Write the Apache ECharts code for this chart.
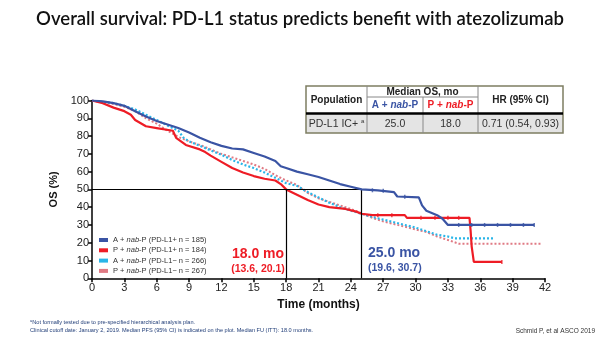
<!DOCTYPE html>
<html><head><meta charset="utf-8">
<script src="https://cdn.jsdelivr.net/npm/echarts@6/dist/echarts.min.js"></script>
<style>html,body{margin:0;padding:0;background:#fff}#c{width:600px;height:338px}</style>
</head><body><div id="c"></div>
<script>
const xTicks = [0,3,6,9,12,15,18,21,24,27,30,33,36,39,42];
const yTicks = [0,10,20,30,40,50,60,70,80,90,100];
const seriesNames = ['A + nab-P (PD-L1+ n = 185)','P + nab-P (PD-L1+ n = 184)','A + nab-P (PD-L1− n = 266)','P + nab-P (PD-L1− n = 267)'];
const blueKM = [[0,100],[1,99.5],[2,98.5],[3,97],[4,94],[5,91],[6,88.5],[7,86.5],[8,84.5],[9,82],[10,79],[11,76.5],[12,74.5],[13,73],[14,72.5],[15,70.5],[16,68.5],[17,66],[17.5,63],[18,62],[19,60],[20,58.5],[21,57],[22,55],[23,53],[24,51.5],[25,50],[26.5,49.5],[28,48.5],[28.3,46],[30.3,45.5],[30.6,41],[31,38],[32,35.5],[32.5,33.5],[33,30],[41,30]];
const redKM = [[0,100],[1,98.5],[2,96],[3,94],[3.6,92],[4,89],[5,85.5],[6,84.5],[7.5,83],[7.8,79],[8.7,75],[10,72.5],[10.5,71],[11,69],[12,65.5],[13,62],[14,59.5],[15,57.5],[16,56],[17,55],[17.5,53],[18,50],[19,47],[20,44],[21,41.5],[22,40],[23.5,39],[24.5,37.5],[25,36.3],[26,35.5],[29,35.5],[29.2,34],[35,34],[35.1,27],[35.2,18],[35.4,9.2],[38,9.2]];
const cyanKM = [[0,100],[2,98.5],[3,97],[4,95],[5,92],[6,89],[7,86],[8,83],[8.5,79],[9,77],[10,74.5],[11,72],[12,69.5],[13,66.5],[14,64],[15,62],[16,59.5],[17,56.5],[18,53.5],[19,52],[20,48.5],[21,45.5],[22,42.5],[23,40],[24,38],[25,36.3],[26,34.5],[27,33],[28,31.5],[29,30],[30,28.5],[31,26.5],[32,24.5],[33,23.5],[33.6,22.5],[37.3,22.5]];
const pinkKM = [[0,100],[2,98],[3,96.5],[4,94],[5,90],[6,87],[7,83],[8,79.5],[9,77],[10,75],[11,72.5],[12,70],[13,68],[14,66],[15,64],[16,61.5],[17,58],[18,55],[19,52.5],[20,48],[21,45],[22,43],[23,41],[24,39],[25,36.5],[26,34],[27,32],[28,30.5],[29,29],[30,27.5],[31,26],[32,23.5],[33,21.5],[34,19.5],[41.7,19.5]];
const blueCensor = [[26,49.5],[27,49.2],[29,45.8],[34,30],[35.2,30],[36.4,30],[37.6,30],[38.8,30],[40,30],[41,30]];
const redCensor = [[26.5,35.5],[27.8,35.5],[30.5,34],[31.8,34],[33,34],[34,34],[38,9.2]];
const medians = {red:18.0, blue:25.0, level:50};
const colors = ['#3a54a4','#ee1c25','#29b5e8','#e07a84'];

const chart = echarts.init(document.getElementById('c'));
function fmt(n){return n.replace('nab','{i|nab}');}
const lblStyle = {fontFamily:'Liberation Sans',fontSize:11,color:'#222'};
const richLeg = {i:{fontStyle:'italic',fontFamily:'Liberation Sans',fontSize:7.5,color:'#333'}};
function ctext(x,y,t,font,fill){return {type:'text',style:{x:x,y:y,text:t,textAlign:'center',textVerticalAlign:'middle',font:font||'bold 10px "Liberation Sans"',fill:fill||'#222'}};}
const tbl = {x0:306,x1:367,x2:423,x3:478,x4:563,y0:86,y1:97,y2:113.5,y3:133};
const cellFont = '10.5px "Liberation Sans"';
const graphics = [
 {type:'text',left:'center',top:10,style:{text:'Overall survival: PD-L1 status predicts benefit with atezolizumab',font:'600 18.5px Lato',fill:'#111'}},
 // table
 {type:'rect',shape:{x:tbl.x0,y:tbl.y2,width:tbl.x4-tbl.x0,height:tbl.y3-tbl.y2},style:{fill:'#e4e4e4'}},
 {type:'rect',shape:{x:tbl.x0,y:tbl.y0,width:tbl.x4-tbl.x0,height:tbl.y3-tbl.y0},style:{fill:'none',stroke:'#7d7d62',lineWidth:1.5}},
 {type:'line',shape:{x1:tbl.x1,y1:tbl.y0,x2:tbl.x1,y2:tbl.y3},style:{stroke:'#888',lineWidth:1}},
 {type:'line',shape:{x1:tbl.x3,y1:tbl.y0,x2:tbl.x3,y2:tbl.y3},style:{stroke:'#888',lineWidth:1}},
 {type:'line',shape:{x1:tbl.x2,y1:tbl.y1,x2:tbl.x2,y2:tbl.y3},style:{stroke:'#888',lineWidth:1}},
 {type:'line',shape:{x1:tbl.x1,y1:tbl.y1,x2:tbl.x3,y2:tbl.y1},style:{stroke:'#888',lineWidth:1}},
 {type:'line',shape:{x1:tbl.x0,y1:tbl.y2,x2:tbl.x4,y2:tbl.y2},style:{stroke:'#000',lineWidth:2.5}},
 ctext((tbl.x0+tbl.x1)/2,(tbl.y0+tbl.y2)/2,'Population'),
 ctext((tbl.x1+tbl.x3)/2,(tbl.y0+tbl.y1)/2+0.5,'Median OS, mo'),
 ctext((tbl.x3+tbl.x4)/2,(tbl.y0+tbl.y2)/2,'HR (95% CI)'),
 {type:'text',style:{x:(tbl.x1+tbl.x2)/2,y:(tbl.y1+tbl.y2)/2,text:'{b|A + }{bi|nab}{b|-P}',textAlign:'center',textVerticalAlign:'middle',rich:{b:{font:'bold 10px "Liberation Sans"',fill:'#3a54a4'},bi:{font:'italic bold 10px "Liberation Sans"',fill:'#3a54a4'}}}},
 {type:'text',style:{x:(tbl.x2+tbl.x3)/2,y:(tbl.y1+tbl.y2)/2,text:'{b|P + }{bi|nab}{b|-P}',textAlign:'center',textVerticalAlign:'middle',rich:{b:{font:'bold 10px "Liberation Sans"',fill:'#ee1c25'},bi:{font:'italic bold 10px "Liberation Sans"',fill:'#ee1c25'}}}},
 {type:'text',style:{x:(tbl.x0+tbl.x1)/2,y:(tbl.y2+tbl.y3)/2+1,text:'{n|PD-L1 IC+ }{s|a}',textAlign:'center',textVerticalAlign:'middle',rich:{n:{font:cellFont,fill:'#333'},s:{font:'6px "Liberation Sans"',fill:'#333',padding:[0,0,5,0]}}}},
 ctext((tbl.x1+tbl.x2)/2,(tbl.y2+tbl.y3)/2+1,medians.blue.toFixed(1),cellFont,'#333'),
 ctext((tbl.x2+tbl.x3)/2,(tbl.y2+tbl.y3)/2+1,medians.red.toFixed(1),cellFont,'#333'),
 ctext((tbl.x3+tbl.x4)/2,(tbl.y2+tbl.y3)/2+1,'0.71 (0.54, 0.93)',cellFont,'#333'),
 // annotations
 ctext(258,254,'18.0 mo','bold 14px "Liberation Sans"','#ee1c25'),
 ctext(258,269,'(13.6, 20.1)','bold 10.5px "Liberation Sans"','#ee1c25'),
 {type:'text',style:{x:368,y:253,text:'25.0 mo',textAlign:'left',textVerticalAlign:'middle',font:'bold 14px "Liberation Sans"',fill:'#3a54a4'}},
 {type:'text',style:{x:368,y:268,text:'(19.6, 30.7)',textAlign:'left',textVerticalAlign:'middle',font:'bold 10.5px "Liberation Sans"',fill:'#3a54a4'}},
 // footnotes
 {type:'text',style:{x:30,y:322,text:'{s|a}{n|Not formally tested due to pre-specified hierarchical analysis plan.}',textVerticalAlign:'middle',rich:{n:{font:'5.6px "Liberation Sans"',fill:'#24407a'},s:{font:'4px "Liberation Sans"',fill:'#24407a',padding:[0,0,3,0]}}}},
 {type:'text',style:{x:30,y:330,text:'Clinical cutoff date: January 2, 2019. Median PFS (95% CI) is indicated on the plot. Median FU (ITT): 18.0 months.',textVerticalAlign:'middle',font:'5.6px "Liberation Sans"',fill:'#24407a'}},
 {type:'text',style:{x:595,y:331,text:'Schmid P, et al ASCO 2019',textAlign:'right',textVerticalAlign:'middle',font:'6.5px "Liberation Sans"',fill:'#333'}}
];

chart.setOption({
 animation:false,
 grid:{left:92,right:55,top:100.5,bottom:59.7},
 xAxis:{type:'value',min:0,max:42,interval:3,
  name:'Time (months)',nameLocation:'middle',nameGap:19,
  nameTextStyle:{fontFamily:'Liberation Sans',fontWeight:'bold',fontSize:12,color:'#111'},
  axisLine:{lineStyle:{color:'#000',width:1.5}},axisTick:{length:4,lineStyle:{color:'#000',width:1.5}},
  axisLabel:Object.assign({margin:4},lblStyle),splitLine:{show:false}},
 yAxis:{type:'value',min:0,max:100,interval:10,
  name:'OS (%)',nameLocation:'middle',nameGap:27,nameRotate:90,
  nameTextStyle:{fontFamily:'Liberation Sans',fontWeight:'bold',fontSize:11,color:'#111'},
  axisLine:{show:true,lineStyle:{color:'#000',width:1.5}},axisTick:{show:true,length:4,lineStyle:{color:'#000',width:1.5}},
  axisLabel:Object.assign({margin:3},lblStyle),splitLine:{show:false}},
 legend:{data:seriesNames,orient:'vertical',left:99,top:236,itemGap:2.3,itemWidth:9,itemHeight:4,icon:'rect',
  formatter:fmt,textStyle:{fontFamily:'Liberation Sans',fontSize:7.5,color:'#333',rich:richLeg},padding:0},
 graphic:graphics,
 series:[
  {name:seriesNames[3],type:'line',data:pinkKM,showSymbol:false,lineStyle:{color:colors[3],width:2,type:[2,2]},itemStyle:{color:colors[3]},z:2},
  {name:seriesNames[2],type:'line',data:cyanKM,showSymbol:false,lineStyle:{color:colors[2],width:2.2,type:[2,2]},itemStyle:{color:colors[2]},z:3},
  {name:seriesNames[1],type:'line',data:redKM,showSymbol:false,lineStyle:{color:colors[1],width:2.2},itemStyle:{color:colors[1]},z:4,
   markLine:{silent:true,symbol:'none',label:{show:false},lineStyle:{color:'#000',width:1.2,type:'solid'},
    data:[[{coord:[0,medians.level]},{coord:[medians.blue,medians.level]}],[{coord:[medians.red,medians.level]},{coord:[medians.red,0]}],[{coord:[medians.blue,medians.level]},{coord:[medians.blue,0]}]]}},
  {name:seriesNames[0],type:'line',data:blueKM,showSymbol:false,lineStyle:{color:colors[0],width:2.2},itemStyle:{color:colors[0]},z:5},
  {type:'scatter',data:blueCensor,symbol:'rect',symbolSize:[1.5,4],itemStyle:{color:colors[0]},z:6,silent:true},
  {type:'scatter',data:redCensor,symbol:'rect',symbolSize:[1.5,4],itemStyle:{color:colors[1]},z:6,silent:true}
 ]
});
</script></body></html>
